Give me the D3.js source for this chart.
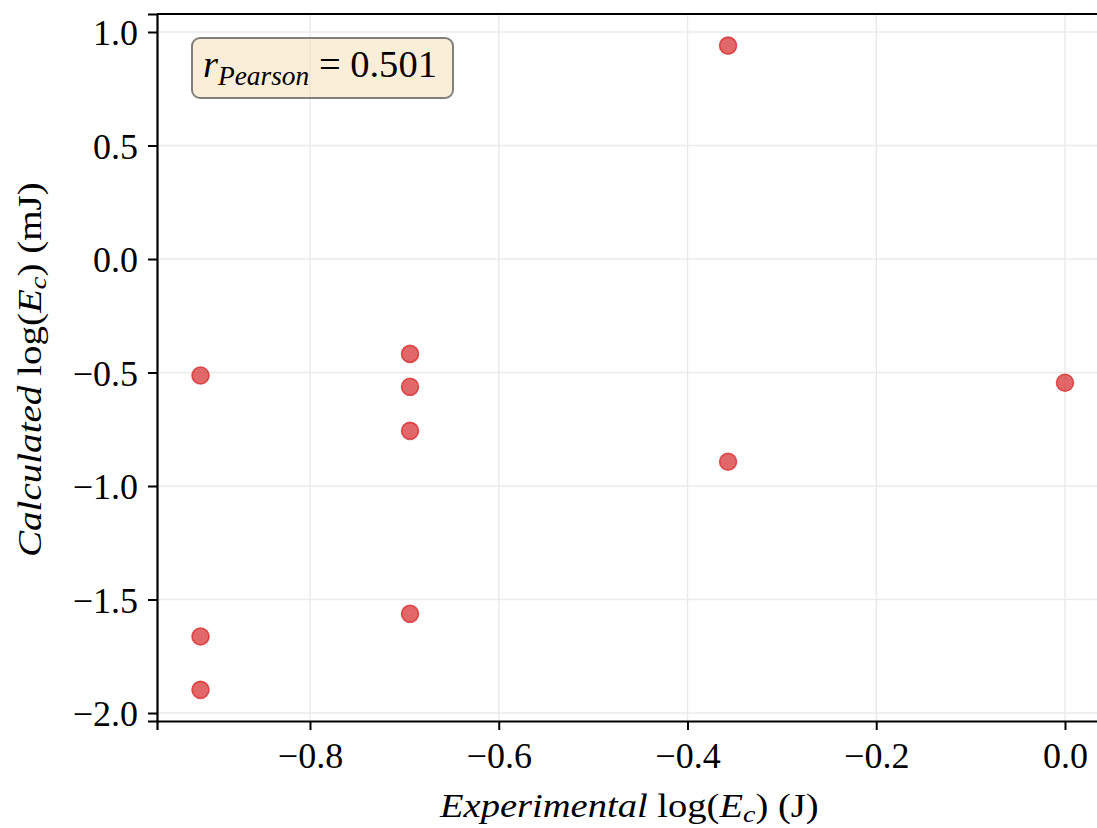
<!DOCTYPE html>
<html><head><meta charset="utf-8">
<script src="https://cdn.jsdelivr.net/npm/d3@7"></script>
<style>body{margin:0;background:#fff}svg{display:block}</style>
</head><body>
<script>
const xValues = [-0.916, -0.916, -0.916, -0.694, -0.694, -0.694, -0.694, -0.357, -0.357, 0.0];
const yValues = [-0.513, -1.663, -1.898, -0.418, -0.563, -0.757, -1.563, 0.940, -0.893, -0.545];
const xTicks = [-0.8, -0.6, -0.4, -0.2, 0.0];
const yTicks = [1.0, 0.5, 0.0, -0.5, -1.0, -1.5, -2.0];
const pearson = "0.501";

const W = 1097, H = 828;
const m = {left: 157, top: 14, right: 1100, bottom: 721};
const svg = d3.select("body").append("svg").attr("width", W).attr("height", H);
const font = "'Liberation Serif', 'DejaVu Serif', serif";

const x = d3.scaleLinear().domain([-0.9621, 0.0371]).range([m.left, m.right]);
const y = d3.scaleLinear().domain([-2.0352, 1.0793]).range([m.bottom, m.top]);

// grid
const g = svg.append("g");
g.selectAll(".gx").data(xTicks).join("line")
  .attr("x1", d => x(d)).attr("x2", d => x(d)).attr("y1", m.top).attr("y2", m.bottom)
  .attr("stroke", "#ebebeb").attr("stroke-width", 1.5);
g.selectAll(".gy").data(yTicks).join("line")
  .attr("y1", d => y(d)).attr("y2", d => y(d)).attr("x1", m.left).attr("x2", W)
  .attr("stroke", "#ebebeb").attr("stroke-width", 1.5);

// points
svg.append("g").selectAll("circle").data(xValues.map((v, i) => [v, yValues[i]])).join("circle")
  .attr("cx", d => x(d[0])).attr("cy", d => y(d[1])).attr("r", 8.5)
  .attr("fill", "rgba(214,39,40,0.7)").attr("stroke", "rgba(214,39,40,0.75)").attr("stroke-width", 1.6);

// axes
const fmt = d => (d < 0 ? "\u2212" : "") + Math.abs(d).toFixed(1);
const xAxis = svg.append("g").attr("transform", `translate(0,${m.bottom})`)
  .call(d3.axisBottom(x).tickValues(xTicks).tickFormat(fmt).tickSize(9).tickPadding(8));
const yAxis = svg.append("g").attr("transform", `translate(${m.left},0)`)
  .call(d3.axisLeft(y).tickValues(yTicks).tickFormat(fmt).tickSize(9).tickPadding(10));
[xAxis, yAxis].forEach(a => {
  a.attr("font-size", null).attr("font-family", null);
  a.select(".domain").attr("stroke", "#000").attr("stroke-width", 2.2);
  a.selectAll(".tick line").attr("stroke", "#000").attr("stroke-width", 2);
  a.selectAll(".tick text").attr("fill", "#000").style("font-family", font).style("font-size", "36px");
});
xAxis.selectAll(".tick text").attr("dy", null).attr("y", 47);
yAxis.selectAll(".tick text").attr("dy", "0.35em");
// top spine
svg.append("line").attr("x1", m.left).attr("x2", W).attr("y1", m.top).attr("y2", m.top)
  .attr("stroke", "#000").attr("stroke-width", 2.2);

function fitWidth(sel, target, anchorX, anchorY) {
  const w = sel.node().getComputedTextLength ? sel.node().getBBox().width : target;
  const s = target / w;
  return s;
}

// annotation box
const bx = 192, by = 38;
svg.append("rect").attr("x", bx).attr("y", by).attr("width", 261).attr("height", 60)
  .attr("rx", 8).attr("fill", "rgba(245,222,179,0.5)").attr("stroke", "#808080").attr("stroke-width", 2);
const t = svg.append("text").attr("x", 0).attr("y", 0).style("font-family", font).style("font-size", "38px").attr("fill", "#000");
t.append("tspan").style("font-style", "italic").text("r");
t.append("tspan").style("font-style", "italic").style("font-size", "27px").attr("dy", 8).text("Pearson");
t.append("tspan").attr("dy", -8).text(" = " + pearson);
{
  const s = 234 / t.node().getBBox().width;
  t.attr("transform", `translate(203,77) scale(${s},1)`);
}

// axis labels
const xl = svg.append("text").attr("x", 0).attr("y", 0)
  .style("font-family", font).style("font-size", "33px").attr("fill", "#000");
xl.append("tspan").style("font-style", "italic").text("Experimental");
xl.append("tspan").text(" log(");
xl.append("tspan").style("font-style", "italic").text("E");
xl.append("tspan").style("font-style", "italic").style("font-size", "24px").attr("dy", 5).text("c");
xl.append("tspan").attr("dy", -5).text(") (J)");
{
  const s = 380 / xl.node().getBBox().width;
  xl.attr("transform", `translate(440,817) scale(${s},1)`);
}

const yl = svg.append("text").attr("x", 0).attr("y", 0)
  .style("font-family", font).style("font-size", "33px").attr("fill", "#000");
yl.append("tspan").style("font-style", "italic").text("Calculated");
yl.append("tspan").text(" log(");
yl.append("tspan").style("font-style", "italic").text("E");
yl.append("tspan").style("font-style", "italic").style("font-size", "24px").attr("dy", 5).text("c");
yl.append("tspan").attr("dy", -5).text(") (mJ)");
{
  const s = 375 / yl.node().getBBox().width;
  yl.attr("transform", `translate(41,557) rotate(-90) scale(${s},1)`);
}
</script>
</body></html>
